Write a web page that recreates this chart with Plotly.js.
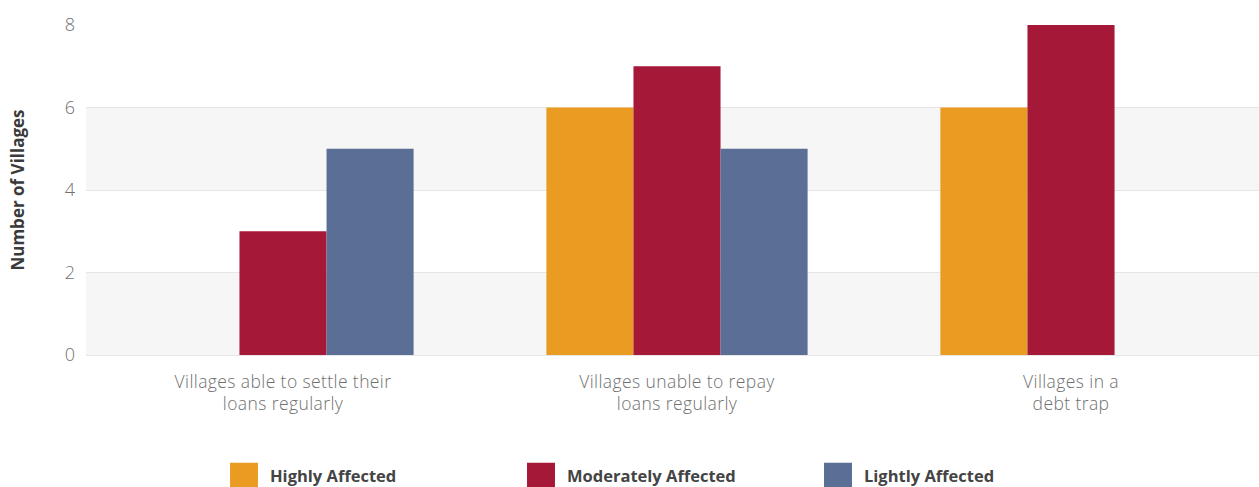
<!DOCTYPE html>
<html>
<head>
<meta charset="utf-8">
<script src="https://cdn.plot.ly/plotly-3.0.1.min.js"></script>
<style>
html,body{margin:0;padding:0;overflow:hidden;background:#fff;}
#chart{width:1270px;height:487px;}
.legend .legendpoints path{transform:translate(14px,0) scale(2.33,2.17);}
.xaxislayer-above .xtick text{letter-spacing:0.4px;}
</style>
</head>
<body>
<div id="chart"></div>
<script>
const categories = [
  "Villages able to settle their<br>loans regularly",
  "Villages unable to repay<br>loans regularly",
  "Villages in a<br>debt trap"
];
const seriesNames = ["Highly Affected", "Moderately Affected", "Lightly Affected"];
const highlyAffected = [0, 6, 6];
const moderatelyAffected = [3, 7, 8];
const lightlyAffected = [5, 5, 0];
const colors = ["#E99C21", "#A51838", "#5B6E96"];
const yTicks = [0, 2, 4, 6, 8];

const seriesValues = [highlyAffected, moderatelyAffected, lightlyAffected];
const traces = seriesValues.map((vals, i) => ({
  type: "bar",
  name: seriesNames[i],
  x: categories,
  y: vals,
  marker: {color: colors[i], line: {width: 0}},
  hoverinfo: "x+y+name"
}));

const layout = {
  width: 1270,
  height: 487,
  margin: {l: 86, r: 2, t: 25, b: 132},
  paper_bgcolor: "#ffffff",
  plot_bgcolor: "#ffffff",
  barmode: "group",
  bargap: 0.337,
  bargroupgap: 0,
  font: {family: "Open Sans, sans-serif", color: "#666"},
  xaxis: {
    type: "category",
    showgrid: false,
    zeroline: false,
    showline: false,
    ticks: "",
    ticklabelstandoff: 14,
    tickfont: {family: "Open Sans, sans-serif", size: 17.5, color: "#707070", weight: 300},
    automargin: false
  },
  yaxis: {
    range: [0, 8],
    tickvals: yTicks,
    ticktext: yTicks.map(String),
    showgrid: true,
    gridcolor: "#e6e6e6",
    gridwidth: 1,
    zeroline: true,
    zerolinecolor: "#e6e6e6",
    zerolinewidth: 1,
    showline: false,
    ticks: "",
    ticklabelstandoff: 10,
    tickfont: {family: "Open Sans, sans-serif", size: 18, color: "#707070", weight: 300},
    title: {
      text: "Number of Villages",
      font: {family: "Open Sans, sans-serif", size: 17, color: "#3a3a3a", weight: 700},
      standoff: 35
    },
    automargin: false
  },
  shapes: [
    {type: "rect", xref: "paper", yref: "y", x0: 0, x1: 1, y0: 0, y1: 2, fillcolor: "#f5f6f5", line: {width: 0}, layer: "below"},
    {type: "rect", xref: "paper", yref: "y", x0: 0, x1: 1, y0: 4, y1: 6, fillcolor: "#f5f6f5", line: {width: 0}, layer: "below"}
  ],
  showlegend: true,
  legend: {
    orientation: "h",
    xref: "container",
    yref: "container",
    x: 230 / 1270,
    xanchor: "left",
    y: 11 / 487,
    yanchor: "middle",
    entrywidth: 252,
    entrywidthmode: "pixels",
    font: {family: "Open Sans, sans-serif", size: 16.5, color: "#444", weight: 700},
    bgcolor: "rgba(0,0,0,0)",
    borderwidth: 0
  }
};

Plotly.newPlot("chart", traces, layout, {displayModeBar: false, staticPlot: true});
</script>
</body>
</html>
